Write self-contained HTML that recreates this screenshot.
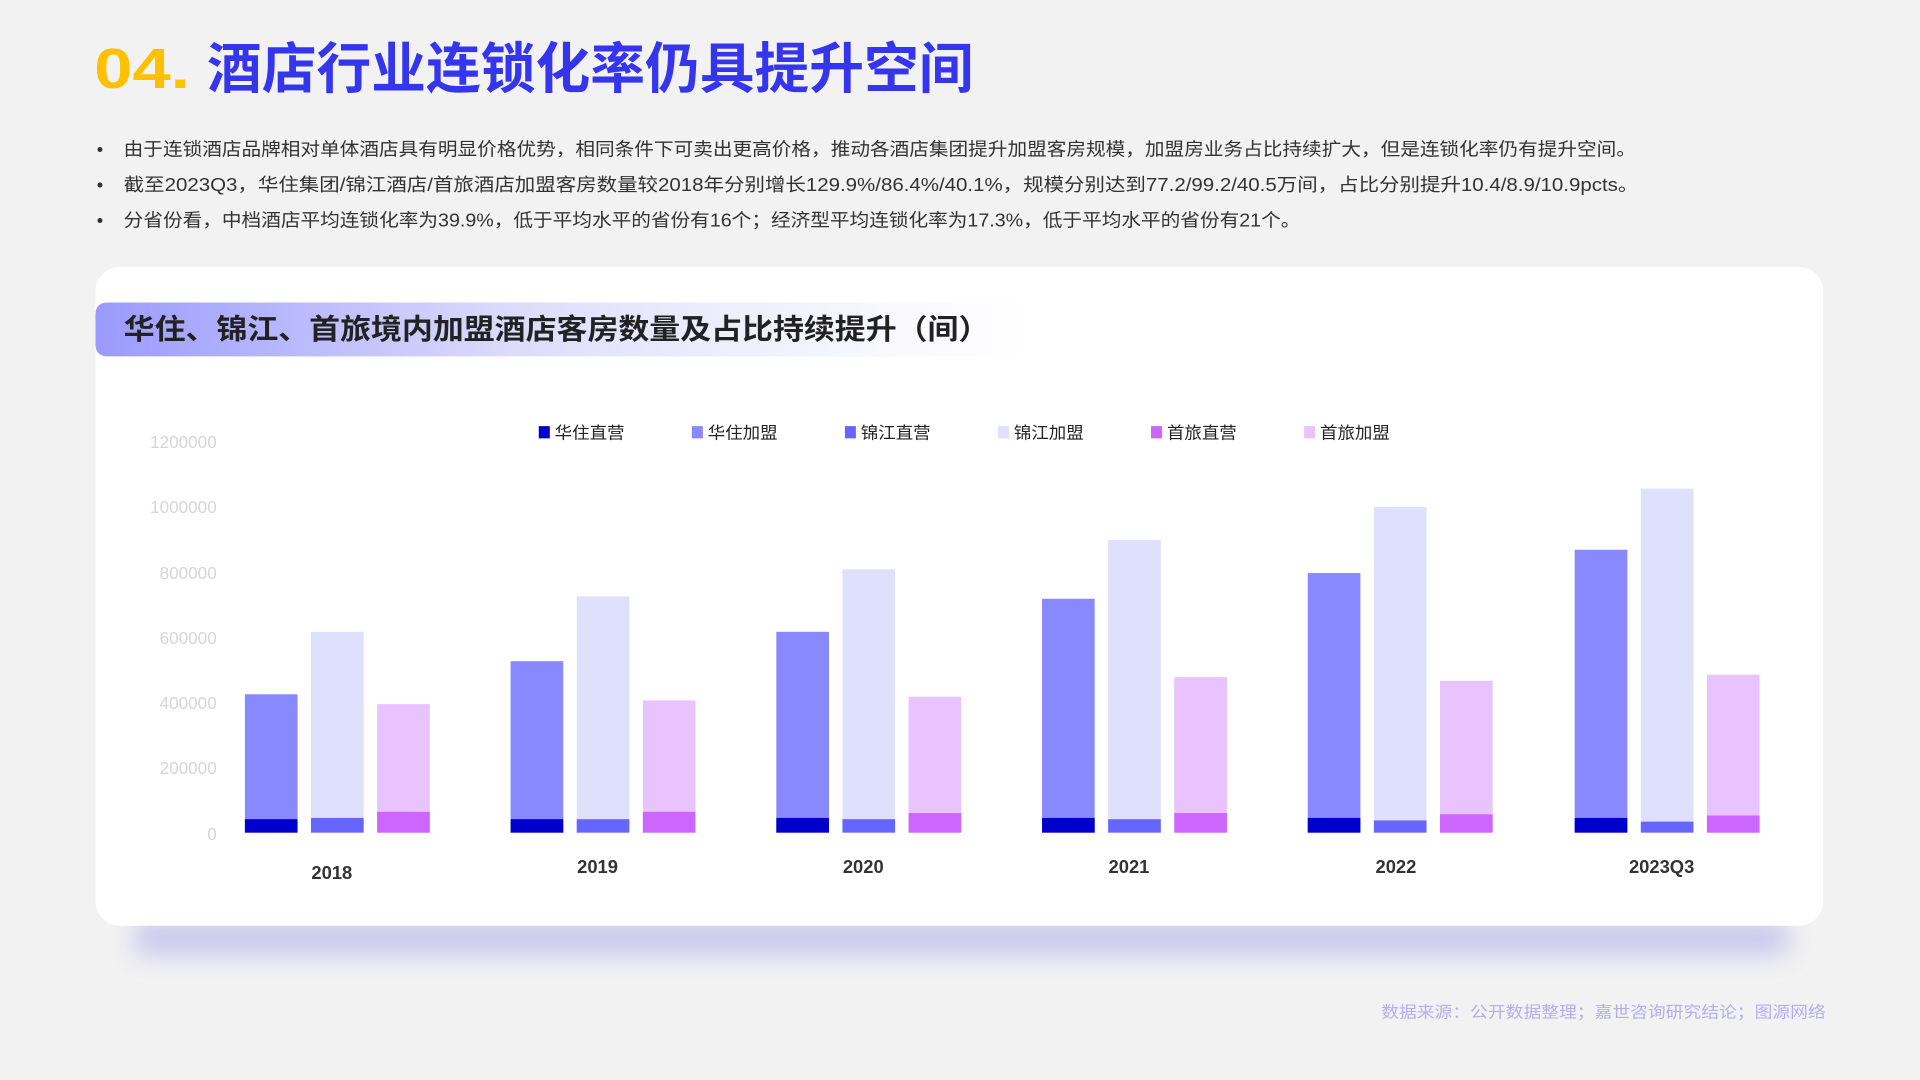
<!DOCTYPE html>
<html><head><meta charset="utf-8"><style>
html,body{margin:0;padding:0;background:#f2f2f2;}
svg{display:block}
text{font-family:"Liberation Sans","Noto Sans CJK SC",sans-serif;}
</style></head><body>
<svg width="1920" height="1080" viewBox="0 0 1568 882" xmlns="http://www.w3.org/2000/svg">
<defs>
<linearGradient id="hg" x1="0" x2="1" y1="0" y2="0">
<stop offset="0" stop-color="#9a9aff"/><stop offset="0.45" stop-color="#dcdcfb"/><stop offset="1" stop-color="#ffffff" stop-opacity="0.6"/>
</linearGradient>
<filter id="bl" x="-20%" y="-100%" width="140%" height="300%"><feGaussianBlur stdDeviation="10"/></filter>
</defs>
<rect width="1568" height="882" fill="#f2f2f2"/>
<text x="77" y="72" font-size="46" font-weight="bold" fill="#ffc000" textLength="78" lengthAdjust="spacingAndGlyphs">04.</text>
<text x="169" y="72" font-size="45" font-weight="bold" fill="#3535ee" textLength="626" lengthAdjust="spacingAndGlyphs">酒店行业连锁化率仍具提升空间</text>
<g font-size="15" fill="#333">
<text x="79" y="127">•</text><text x="101" y="127" textLength="1235" lengthAdjust="spacingAndGlyphs">由于连锁酒店品牌相对单体酒店具有明显价格优势，相同条件下可卖出更高价格，推动各酒店集团提升加盟客房规模，加盟房业务占比持续扩大，但是连锁化率仍有提升空间。</text>
<text x="79" y="156">•</text><text x="101" y="156" textLength="1237" lengthAdjust="spacingAndGlyphs">截至2023Q3，华住集团/锦江酒店/首旅酒店加盟客房数量较2018年分别增长129.9%/86.4%/40.1%，规模分别达到77.2/99.2/40.5万间，占比分别提升10.4/8.9/10.9pcts。</text>
<text x="79" y="185">•</text><text x="101" y="185" textLength="961" lengthAdjust="spacingAndGlyphs">分省份看，中档酒店平均连锁化率为39.9%，低于平均水平的省份有16个；经济型平均连锁化率为17.3%，低于平均水平的省份有21个。</text>
</g>
<rect x="110" y="752" width="1350" height="28" fill="#c8c8ee" filter="url(#bl)"/>
<rect x="78" y="218" width="1411" height="538" rx="20" fill="#fff"/>
<path d="M88 247 H840 V291 H88 Q78 291 78 281 V257 Q78 247 88 247Z" fill="url(#hg)"/>
<text x="101" y="277" font-size="23" font-weight="bold" fill="#222" textLength="707" lengthAdjust="spacingAndGlyphs">华住、锦江、首旅境内加盟酒店客房数量及占比持续提升（间）</text>
<g font-size="13.5" fill="#222">
<rect x="440" y="348" width="9" height="10" fill="#0000cc"/><text x="453" y="358" textLength="57" lengthAdjust="spacingAndGlyphs">华住直营</text>
<rect x="565" y="348" width="9" height="10" fill="#8888ff"/><text x="578" y="358" textLength="57" lengthAdjust="spacingAndGlyphs">华住加盟</text>
<rect x="690" y="348" width="9" height="10" fill="#6666ff"/><text x="703" y="358" textLength="57" lengthAdjust="spacingAndGlyphs">锦江直营</text>
<rect x="815" y="348" width="9" height="10" fill="#dfe0fc"/><text x="828" y="358" textLength="57" lengthAdjust="spacingAndGlyphs">锦江加盟</text>
<rect x="940" y="348" width="9" height="10" fill="#cc66ff"/><text x="953" y="358" textLength="57" lengthAdjust="spacingAndGlyphs">首旅直营</text>
<rect x="1065" y="348" width="9" height="10" fill="#e9c3fd"/><text x="1078" y="358" textLength="57" lengthAdjust="spacingAndGlyphs">首旅加盟</text>
</g>
<g font-size="14" fill="#d6d6d6" text-anchor="end">
<text x="177" y="366">1200000</text><text x="177" y="419">1000000</text><text x="177" y="473">800000</text>
<text x="177" y="526">600000</text><text x="177" y="579">400000</text><text x="177" y="632">200000</text><text x="177" y="686">0</text>
</g>
<g>
<rect x="200" y="567" width="43" height="113" fill="#8888ff"/><rect x="200" y="669" width="43" height="11" fill="#0000cc"/>
<rect x="254" y="516" width="43" height="164" fill="#dfe0fc"/><rect x="254" y="668" width="43" height="12" fill="#6666ff"/>
<rect x="308" y="575" width="43" height="105" fill="#e9c3fd"/><rect x="308" y="663" width="43" height="17" fill="#cc66ff"/>
<rect x="417" y="540" width="43" height="140" fill="#8888ff"/><rect x="417" y="669" width="43" height="11" fill="#0000cc"/>
<rect x="471" y="487" width="43" height="193" fill="#dfe0fc"/><rect x="471" y="669" width="43" height="11" fill="#6666ff"/>
<rect x="525" y="572" width="43" height="108" fill="#e9c3fd"/><rect x="525" y="663" width="43" height="17" fill="#cc66ff"/>
<rect x="634" y="516" width="43" height="164" fill="#8888ff"/><rect x="634" y="668" width="43" height="12" fill="#0000cc"/>
<rect x="688" y="465" width="43" height="215" fill="#dfe0fc"/><rect x="688" y="669" width="43" height="11" fill="#6666ff"/>
<rect x="742" y="569" width="43" height="111" fill="#e9c3fd"/><rect x="742" y="664" width="43" height="16" fill="#cc66ff"/>
<rect x="851" y="489" width="43" height="191" fill="#8888ff"/><rect x="851" y="668" width="43" height="12" fill="#0000cc"/>
<rect x="905" y="441" width="43" height="239" fill="#dfe0fc"/><rect x="905" y="669" width="43" height="11" fill="#6666ff"/>
<rect x="959" y="553" width="43" height="127" fill="#e9c3fd"/><rect x="959" y="664" width="43" height="16" fill="#cc66ff"/>
<rect x="1068" y="468" width="43" height="212" fill="#8888ff"/><rect x="1068" y="668" width="43" height="12" fill="#0000cc"/>
<rect x="1122" y="414" width="43" height="266" fill="#dfe0fc"/><rect x="1122" y="670" width="43" height="10" fill="#6666ff"/>
<rect x="1176" y="556" width="43" height="124" fill="#e9c3fd"/><rect x="1176" y="665" width="43" height="15" fill="#cc66ff"/>
<rect x="1286" y="449" width="43" height="231" fill="#8888ff"/><rect x="1286" y="668" width="43" height="12" fill="#0000cc"/>
<rect x="1340" y="399" width="43" height="281" fill="#dfe0fc"/><rect x="1340" y="671" width="43" height="9" fill="#6666ff"/>
<rect x="1394" y="551" width="43" height="129" fill="#e9c3fd"/><rect x="1394" y="666" width="43" height="14" fill="#cc66ff"/>
</g>
<g font-size="15" font-weight="bold" fill="#333" text-anchor="middle">
<text x="271" y="718">2018</text><text x="488" y="713">2019</text><text x="705" y="713">2020</text>
<text x="922" y="713">2021</text><text x="1140" y="713">2022</text><text x="1357" y="713">2023Q3</text>
</g>
<text x="1128" y="831" font-size="13" fill="#b3aef2" textLength="363" lengthAdjust="spacingAndGlyphs">数据来源：公开数据整理；嘉世咨询研究结论；图源网络</text>
</svg>
</body></html>
